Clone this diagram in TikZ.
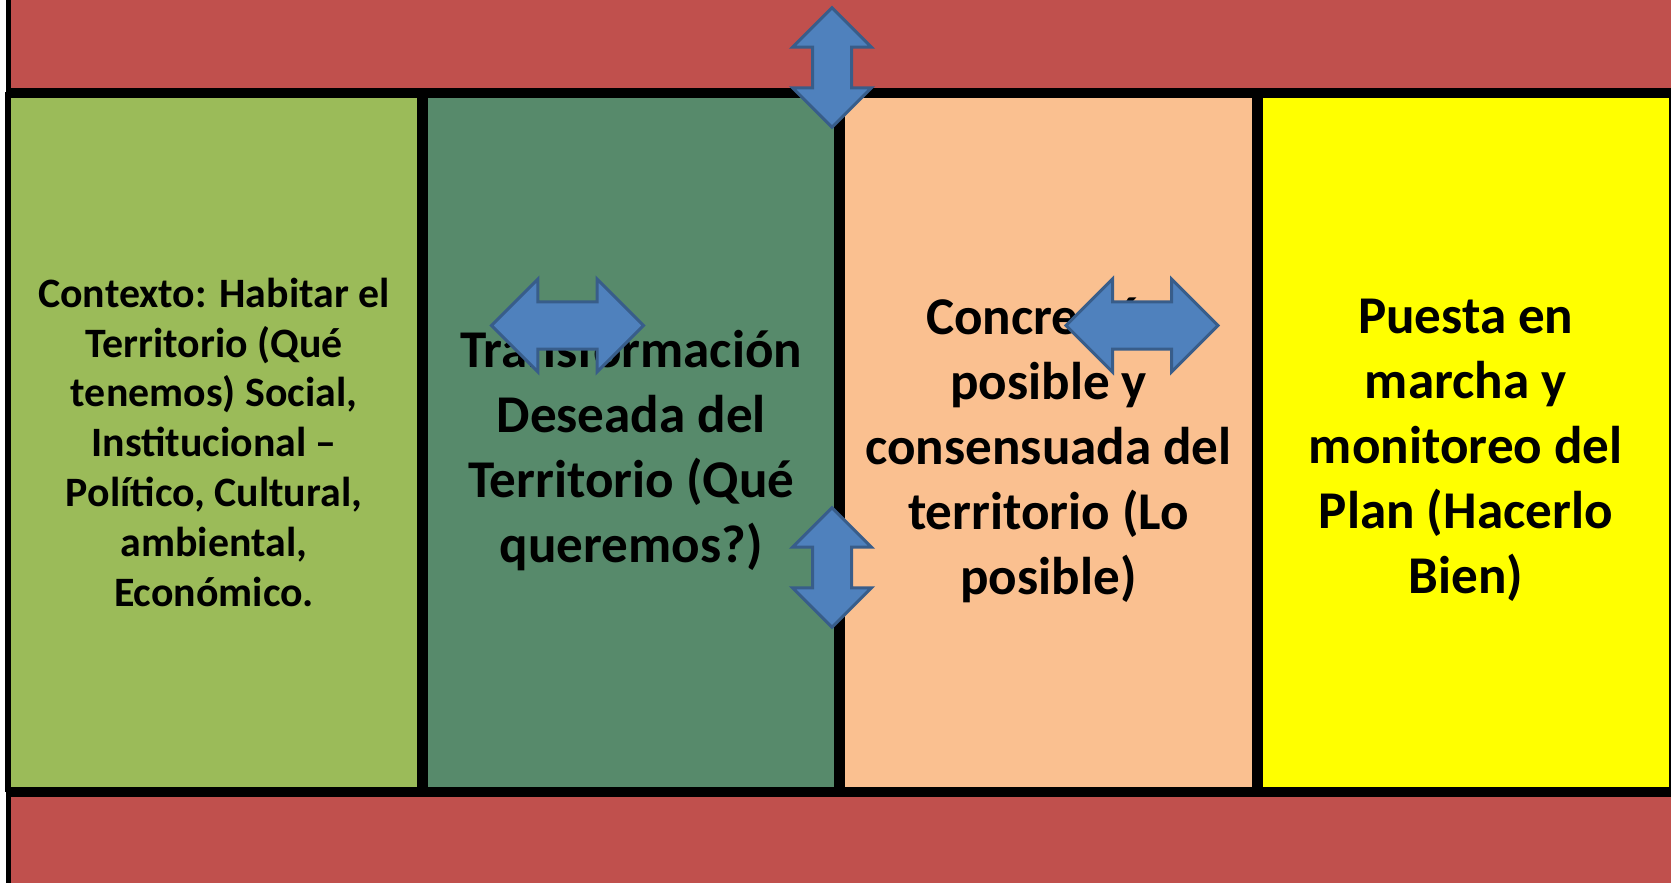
\documentclass[tikz,border=0pt]{standalone}
\usepackage{fontspec}
\setmainfont{Carlito}
\definecolor{RojoBanda}{HTML}{C0504D}
\definecolor{VerdeClaro}{HTML}{9BBB59}
\definecolor{VerdeOscuro}{HTML}{578A6B}
\definecolor{Durazno}{HTML}{FAC090}
\definecolor{AmarilloPlan}{HTML}{FFFF00}
\definecolor{AzulFlecha}{HTML}{4F81BD}
\definecolor{AzulBorde}{HTML}{385D8A}
\usetikzlibrary{shapes.arrows}
\usetikzlibrary{positioning}

\begin{document}
\begin{tikzpicture}
	[x=0.01cm, y=-0.01cm,
	caja/.style = {shape=rectangle, draw=black, line width=0.055cm, inner sep=0pt,
		minimum width=4.115cm, minimum height=6.942cm},
	textochico/.style = {align=center, font=\bfseries\fontsize{11.9}{14.2}\selectfont},
	textogrande/.style = {align=center, font=\bfseries\fontsize{15.1}{18.5}\selectfont},
	banda/.style = {fill=RojoBanda, draw=black, line width=0.055cm},
	flecha/.style = {double arrow, fill=AzulFlecha, draw=AzulBorde, line width=0.03cm,
		inner xsep=0pt, double arrow head indent=0pt},
	flechah/.style = {flecha, inner ysep=0.22cm, double arrow head extend=0.23cm,
		minimum height=1.52cm},
	flechav/.style = {flecha, rotate=90, inner ysep=0.18cm, double arrow head extend=0.20cm,
		minimum height=1.195cm}]
	\useasboundingbox (0,0) rectangle (1671,882);
	\clip (0,0) rectangle (1671,882);
	\draw[banda] (8.3,-20) rectangle (1700,90.75);
	\draw[banda] (8.3,794.25) rectangle (1700,910);
	% las cuatro columnas
	\node[caja, fill=VerdeClaro] (contexto) at (214,442.35) {};
	\node[caja, fill=VerdeOscuro, right=0pt of contexto] (deseada) {};
	\node[caja, fill=Durazno, right=0pt of deseada] (posible) {};
	\node[caja, fill=AmarilloPlan, right=0pt of posible] (puesta) {};
	% textos
	\node[textochico] (tContexto) at (contexto.center)
		{Contexto: Habitar el\\Territorio (Qué\\tenemos) Social,\\Institucional –\\Político, Cultural,\\ambiental,\\Económico.};
	\node[textogrande] (tDeseada) at ([yshift=-0.08cm]deseada.center)
		{Transformación\\Deseada del\\Territorio (Qué\\queremos?)};
	\node[textogrande] (tPosible) at ([yshift=-0.08cm]posible.center)
		{Concreción\\posible y\\consensuada del\\territorio (Lo\\posible)};
	\node[textogrande] (tPuesta) at ([yshift=-0.08cm]puesta.center)
		{Puesta en\\marcha y\\monitoreo del\\Plan (Hacerlo\\Bien)};
	% flechas
	\node[flechav] (fSup) at (832,67.5) {};
	\node[flechav] (fInf) at (832,567.5) {};
	\node[flechah] (fDeseada) at (567.5,325.5) {};
	\node[flechah] (fPosible) at (1142,325.5) {};
\end{tikzpicture}
\end{document}
